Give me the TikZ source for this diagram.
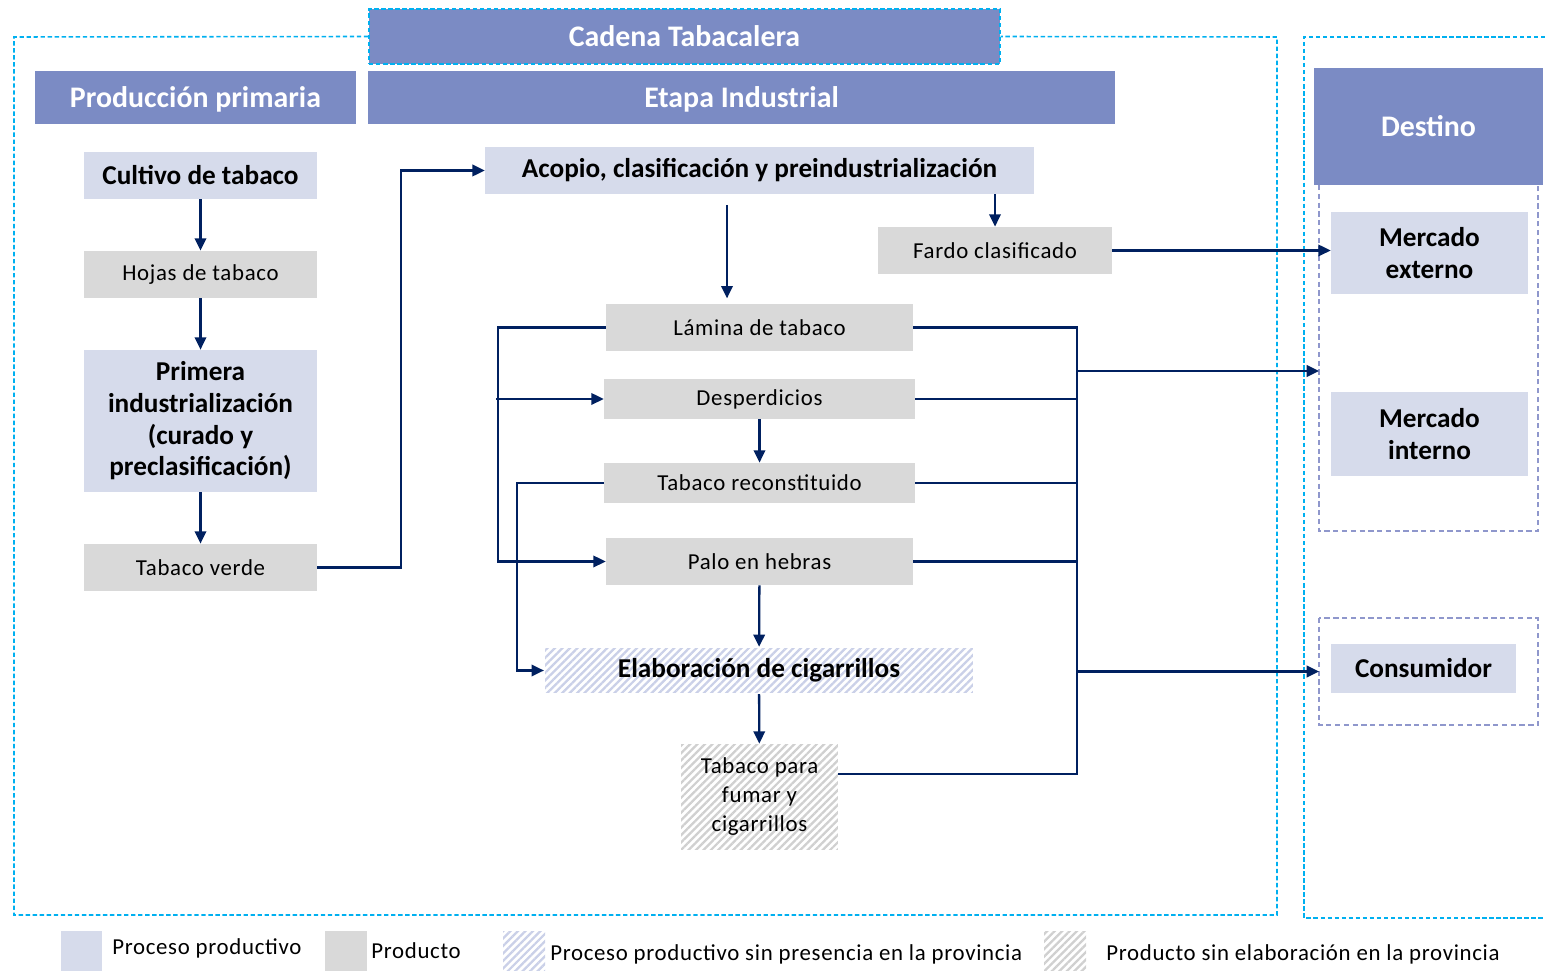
\documentclass[tikz,border=0pt]{standalone}
\usepackage{fontspec}
\setmainfont{Carlito}
\newfontfamily\espaciada[LetterSpace=3]{Carlito}
\usetikzlibrary{arrows.meta,patterns.meta,positioning}

\definecolor{cabecera}{RGB}{123,139,196}
\definecolor{proceso}{RGB}{214,219,235}
\definecolor{producto}{RGB}{217,217,217}
\definecolor{azulflecha}{RGB}{0,32,96}
\definecolor{celeste}{RGB}{0,176,240}
\definecolor{lila}{RGB}{143,151,204}
\definecolor{rayaazul}{RGB}{202,208,232}
\definecolor{rayagris}{RGB}{208,208,208}

\tikzset{
  cabeza/.style={fill=cabecera, text=white, inner sep=0pt, text depth=1pt,
    font=\fontsize{17}{20}\selectfont\bfseries},
  proc/.style={fill=proceso, inner sep=0pt, align=center,
    font=\fontsize{15.5}{18}\selectfont\bfseries},
  prod/.style={fill=producto, inner sep=0pt, align=center,
    font=\fontsize{13}{16.5}\selectfont\espaciada},
  procno/.style={preaction={fill=white}, inner sep=0pt, align=center,
    pattern={Lines[angle=45,distance=3pt,line width=1.3pt]}, pattern color=rayaazul,
    font=\fontsize{15.5}{18}\selectfont\bfseries},
  prodno/.style={preaction={fill=white}, inner sep=0pt, align=center,
    pattern={Lines[angle=45,distance=3pt,line width=1.3pt]}, pattern color=rayagris,
    font=\fontsize{13}{16.5}\selectfont\espaciada},
  leyenda/.style={anchor=west, inner sep=0pt, font=\fontsize{13}{16}\selectfont\espaciada},
  cuadro/.style={minimum width=0.84cm, minimum height=0.8cm, inner sep=0pt},
  linea/.style={draw=azulflecha, line width=1.3pt},
  flecha/.style={linea, -{Triangle[length=7pt,width=6.5pt]}},
  marco/.style={draw=celeste, line width=0.9pt, dash pattern=on 2.5pt off 1.5pt},
  marcolila/.style={draw=lila, line width=0.9pt, dash pattern=on 3pt off 2pt},
}

\begin{document}
\begin{tikzpicture}[x=0.02cm, y=-0.02cm]
  \useasboundingbox (0,0) rectangle (1545,972);

  % cabeceras
  \node (cadena) [cabeza, marco, minimum width=12.62cm, minimum height=1.10cm] at (684.5,36.5) {Cadena Tabacalera};
  \node (primaria) [cabeza, minimum width=6.42cm, minimum height=1.06cm] at (195.5,97.5) {Producción primaria};
  \node (industrial) [cabeza, minimum width=14.94cm, minimum height=1.06cm] at (741.5,97.5) {Etapa Industrial};
  \node (destino) [cabeza, minimum width=4.58cm, minimum height=2.34cm] at (1428.5,126.5) {Destino};

  % marcos
  \draw [marco] (cadena.west) -- (14,37) -- (14,915) -- (1277,915) -- (1277,37) -- (cadena.east);
  \draw [marco] (1545,37) -- (1304,37) -- (1304,918) -- (1545,918);
  \draw [marcolila] (1319,185) -- (1319,531) -- (1538,531) -- (1538,185);
  \draw [marcolila] (1319,618) rectangle (1538,725);

  % produccion primaria
  \node (cultivo) [proc, minimum width=4.66cm, minimum height=0.94cm] at (200.5,175.5) {Cultivo de tabaco};
  \node (hojas) [prod, minimum width=4.66cm, minimum height=0.94cm] at (200.5,274.5) {Hojas de tabaco};
  \node (primera) [proc, minimum width=4.66cm, minimum height=2.84cm] at (200.5,421) {Primera\\industrialización\\(curado y\\preclasificación)};
  \node (verde) [prod, minimum width=4.66cm, minimum height=0.94cm] at (200.5,567.5) {Tabaco verde};

  % etapa industrial
  \node (acopio) [proc, minimum width=10.98cm, minimum height=0.94cm] at (759.5,170.5) {Acopio, clasificación y preindustrialización};
  \node (fardo) [prod, minimum width=4.68cm, minimum height=0.94cm] at (995,250.5) {Fardo clasificado};
  \node (lamina) [prod, minimum width=6.14cm, minimum height=0.94cm] at (759.5,327.5) {Lámina de tabaco};
  \node (desperdicios) [prod, minimum width=6.22cm, minimum height=0.80cm] at (759.5,399) {Desperdicios};
  \node (reconstituido) [prod, minimum width=6.22cm, minimum height=0.80cm] at (759.5,483) {Tabaco reconstituido};
  \node (palo) [prod, minimum width=6.14cm, minimum height=0.94cm] at (759.5,561.5) {Palo en hebras};
  \node (elaboracion) [procno, minimum width=8.56cm, minimum height=0.90cm] at (759,670.5) {Elaboración de cigarrillos};
  \node (fumar) [prodno, minimum width=3.14cm, minimum height=2.12cm] at (759.5,797) {Tabaco para\\fumar y\\cigarrillos};

  % destino
  \node (externo) [proc, minimum width=3.94cm, minimum height=1.64cm] at (1429.5,253) {Mercado\\externo};
  \node (interno) [proc, minimum width=3.94cm, minimum height=1.68cm] at (1429.5,434) {Mercado\\interno};
  \node (consumidor) [proc, minimum width=3.70cm, minimum height=0.98cm] at (1423.5,668.5) {Consumidor};

  \coordinate (llegainterno) at (1319,371);
  \coordinate (llegaconsumo) at (1319,671.5);
  \coordinate (entradesp) at (496,399);

  % conectores
  \draw [flecha] (cultivo) -- (hojas);
  \draw [flecha] (hojas) -- (primera);
  \draw [flecha] (primera) -- (verde);
  \draw [flecha] (verde.east) -- ++(84,0) |- (acopio.west);
  \draw [flecha] (acopio.south -| fardo.north) -- (fardo.north);
  \draw [flecha, shorten <=6pt, shorten >=3pt] ([xshift=-0.65cm]acopio.south) -- ([xshift=-0.65cm]lamina.north);
  \draw [flecha] (fardo.east) -- (fardo.east -| externo.west);
  \draw [flecha] (lamina.west) -- ++(-108,0) |- (palo.west);
  \draw [flecha] (entradesp) -- (desperdicios.west);
  \draw [flecha] (desperdicios) -- (reconstituido);
  \draw [flecha] (reconstituido.west) -- ++(-87,0) |- (elaboracion.west);
  \draw [flecha] (palo) -- (elaboracion);
  \draw [flecha] (elaboracion) -- (fumar);

  \draw [linea] (lamina.east) -| (1077,774) -- (fumar.east |- 0,774);
  \draw [linea] (desperdicios.east) -- (desperdicios.east -| 1077,0);
  \draw [linea] (reconstituido.east) -- (reconstituido.east -| 1077,0);
  \draw [linea] (palo.east) -- (palo.east -| 1077,0);
  \draw [flecha] (llegainterno -| 1077,0) -- (llegainterno);
  \draw [flecha] (llegaconsumo -| 1077,0) -- (llegaconsumo);

  % leyenda
  \node (leyproc) [cuadro, fill=proceso] at (81.5,951) {};
  \node [leyenda] at (112,948) {Proceso productivo};
  \node (leyprod) [cuadro, fill=producto] at (346,951) {};
  \node [leyenda] at (371,951) {Producto};
  \node (leyprocno) [cuadro, procno] at (524,951) {};
  \node [leyenda] at (550,954) {Proceso productivo sin presencia en la provincia};
  \node (leyprodno) [cuadro, prodno] at (1065,951) {};
  \node [leyenda] at (1106,954) {Producto sin elaboración en la provincia};
\end{tikzpicture}
\end{document}
